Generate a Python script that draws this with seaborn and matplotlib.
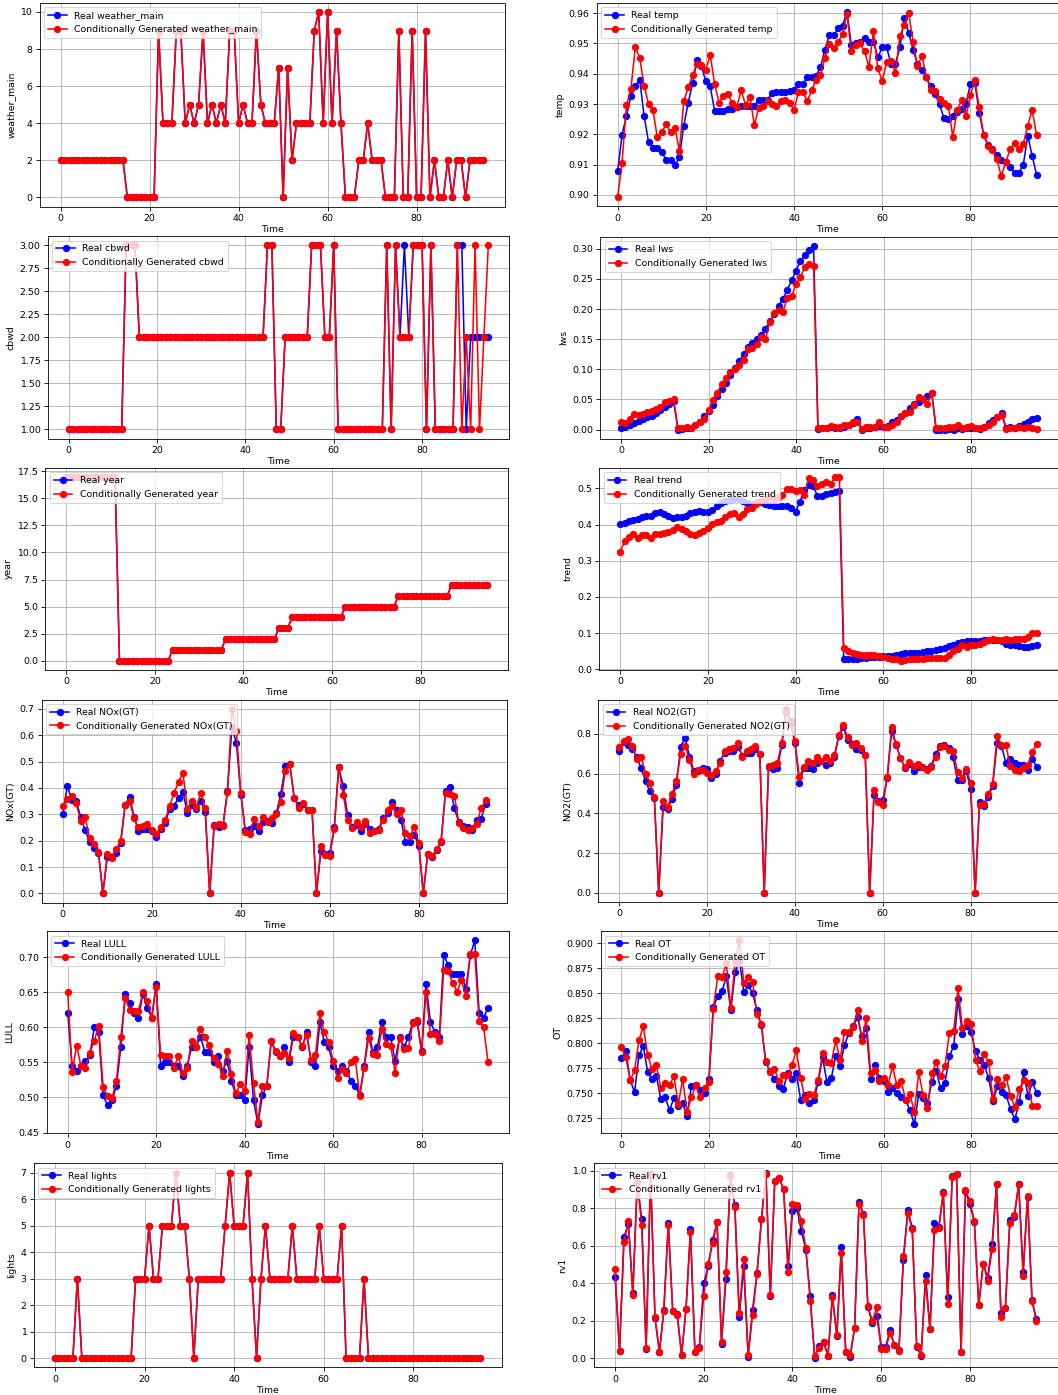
import numpy as np
import pandas as pd
import matplotlib
matplotlib.use("Agg")
import matplotlib.pyplot as plt
import seaborn as sns

time = np.arange(96)

# ---- weather_main (real and generated coincide) ----
weather_main_real = [2, 2, 2, 2, 2, 2, 2, 2, 2, 2, 2, 2, 2, 2, 2,
                     0, 0, 0, 0, 0, 0, 0,
                     9, 4, 4, 4, 9, 9, 4, 5, 4, 5, 9, 4, 5, 4, 5, 4, 9, 9,
                     4, 5, 4, 4, 9, 5, 4, 4, 4, 7, 0, 7, 2, 4, 4, 4, 4, 9,
                     10, 4, 10, 4, 9, 4, 0, 0, 0, 2, 2, 4, 2, 2, 2, 0, 0, 0,
                     9, 0, 0, 9, 0, 0, 9, 0, 2, 0, 0, 2, 0, 2, 2, 0, 2, 2, 2, 2]
weather_main_gen = [2, 2, 2, 2, 2, 2, 2, 2, 2, 2, 2, 2, 2, 2, 2,
                    0, 0, 0, 0, 0, 0, 0,
                    9, 4, 4, 4, 9, 9, 4, 5, 4, 5, 9, 4, 5, 4, 5, 4, 9, 9,
                    4, 5, 4, 4, 9, 5, 4, 4, 4, 7, 0, 7, 2, 4, 4, 4, 4, 9,
                    10, 4, 10, 4, 9, 4, 0, 0, 0, 2, 2, 4, 2, 2, 2, 0, 0, 0,
                    9, 0, 0, 9, 0, 0, 9, 0, 2, 0, 0, 2, 0, 2, 2, 0, 2, 2, 2, 2]

# ---- temp ----
temp_real = [0.9078, 0.9198, 0.9262, 0.9326, 0.9360, 0.9381, 0.9261, 0.9175, 0.9155, 0.9155,
             0.9141, 0.9116, 0.9115, 0.9099, 0.9124, 0.9229, 0.9304, 0.9369, 0.9445, 0.9425,
             0.9375, 0.9358, 0.9277, 0.9277, 0.9277, 0.9282, 0.9282, 0.9290, 0.9292, 0.9292,
             0.9292, 0.9295, 0.9313, 0.9313, 0.9313, 0.9338, 0.9340, 0.9340, 0.9340, 0.9344,
             0.9347, 0.9365, 0.9365, 0.9390, 0.9390, 0.9392, 0.9422, 0.9480, 0.9527, 0.9527,
             0.9550, 0.9559, 0.9604, 0.9495, 0.9502, 0.9504, 0.9517, 0.9505, 0.9505, 0.9454,
             0.9487, 0.9487, 0.9432, 0.9432, 0.9487, 0.9584, 0.9535, 0.9478, 0.9433, 0.9413,
             0.9390, 0.9358, 0.9333, 0.9300, 0.9253, 0.9251, 0.9261, 0.9275, 0.9285, 0.9300,
             0.9366, 0.9370, 0.9272, 0.9198, 0.9165, 0.9150, 0.9133, 0.9115, 0.9108, 0.9092,
             0.9073, 0.9073, 0.9100, 0.9195, 0.9130, 0.9067]
temp_gen = [0.8993, 0.9107, 0.9296, 0.9349, 0.9487, 0.9453, 0.9360, 0.9301, 0.9279, 0.9190,
            0.9207, 0.9233, 0.9208, 0.9222, 0.9146, 0.9309, 0.9355, 0.9395, 0.9433, 0.9430,
            0.9413, 0.9462, 0.9365, 0.9305, 0.9328, 0.9334, 0.9302, 0.9289, 0.9345, 0.9298,
            0.9323, 0.9231, 0.9287, 0.9293, 0.9309, 0.9301, 0.9292, 0.9311, 0.9312, 0.9304,
            0.9280, 0.9340, 0.9340, 0.9310, 0.9345, 0.9380, 0.9395, 0.9452, 0.9498, 0.9484,
            0.9505, 0.9531, 0.9598, 0.9475, 0.9495, 0.9500, 0.9474, 0.9422, 0.9540, 0.9418,
            0.9376, 0.9438, 0.9443, 0.9402, 0.9524, 0.9561, 0.9601, 0.9504, 0.9424, 0.9460,
            0.9390, 0.9347, 0.9343, 0.9318, 0.9305, 0.9292, 0.9192, 0.9280, 0.9313, 0.9259,
            0.9330, 0.9378, 0.9290, 0.9198, 0.9162, 0.9147, 0.9118, 0.9062, 0.9108, 0.9150,
            0.9172, 0.9150, 0.9168, 0.9229, 0.9281, 0.9197]

# ---- cbwd ----
cbwd_real = [1] * 13 + [3, 3, 3] + [2] * 29 + [3, 3, 1, 1] + [2] * 6 + [3, 3, 3, 2, 2, 3] \
    + [1] * 11 + [3, 1, 3, 2, 3, 2, 3, 3, 3, 1, 3, 1, 1, 1, 1, 1, 3, 3, 1, 2, 2, 2, 2, 2]
cbwd_gen = [1] * 13 + [3, 3, 3] + [2] * 29 + [3, 3, 1, 1] + [2] * 6 + [3, 3, 3, 2, 2, 3] \
    + [1] * 11 + [3, 1, 3, 2, 2, 2, 3, 3, 3, 1, 3, 1, 1, 1, 1, 1, 3, 1, 2, 1, 3, 1, 2, 3]

# ---- Iws ----
iws_real = [0.002, 0.004, 0.007, 0.010, 0.014, 0.017, 0.020, 0.023, 0.027, 0.033,
            0.038, 0.043, 0.047, 0.000, 0.001, 0.002, 0.002, 0.008, 0.013, 0.022,
            0.030, 0.041, 0.055, 0.067, 0.078, 0.090, 0.102, 0.114, 0.125, 0.137,
            0.144, 0.150, 0.157, 0.167, 0.180, 0.192, 0.205, 0.217, 0.232, 0.248,
            0.264, 0.280, 0.290, 0.298, 0.305, 0.001, 0.002, 0.003, 0.004, 0.003,
            0.003, 0.005, 0.007, 0.010, 0.017, 0.000, 0.002, 0.003, 0.004, 0.006,
            0.005, 0.006, 0.012, 0.016, 0.023, 0.028, 0.036, 0.042, 0.045, 0.050,
            0.056, 0.061, 0.000, 0.000, 0.000, 0.001, 0.000, 0.002, 0.001, 0.002,
            0.003, 0.002, 0.001, 0.004, 0.010, 0.015, 0.020, 0.027, 0.003, 0.004,
            0.003, 0.006, 0.009, 0.012, 0.017, 0.019]
iws_gen = [0.013, 0.010, 0.018, 0.026, 0.024, 0.026, 0.029, 0.030, 0.034, 0.038,
           0.046, 0.048, 0.051, 0.002, 0.003, 0.004, 0.003, 0.007, 0.012, 0.018,
           0.032, 0.049, 0.061, 0.075, 0.086, 0.096, 0.101, 0.107, 0.116, 0.134,
           0.136, 0.142, 0.153, 0.150, 0.178, 0.193, 0.199, 0.196, 0.218, 0.221,
           0.242, 0.253, 0.270, 0.275, 0.272, 0.002, 0.002, 0.003, 0.006, 0.005,
           0.005, 0.007, 0.008, 0.012, 0.013, 0.001, 0.004, 0.004, 0.005, 0.012,
           0.005, 0.004, 0.008, 0.013, 0.023, 0.027, 0.029, 0.041, 0.054, 0.050,
           0.043, 0.061, 0.003, 0.002, 0.003, 0.005, 0.005, 0.008, 0.002, 0.004,
           0.006, 0.002, 0.002, 0.005, 0.008, 0.013, 0.020, 0.024, 0.001, 0.002,
           0.003, 0.005, 0.003, 0.004, 0.003, 0.001]

# ---- year (real and generated coincide) ----
year_real = [17] * 12 + [0] * 12 + [1] * 12 + [2] * 12 + [3] * 3 + [4] * 12 + [5] * 12 + [6] * 12 + [7] * 9
year_gen = [17] * 12 + [0] * 12 + [1] * 12 + [2] * 12 + [3] * 3 + [4] * 12 + [5] * 12 + [6] * 12 + [7] * 9

# ---- trend ----
trend_real = [0.401, 0.405, 0.410, 0.412, 0.416, 0.421, 0.424, 0.425, 0.432, 0.434,
              0.430, 0.424, 0.418, 0.421, 0.420, 0.424, 0.431, 0.435, 0.437, 0.436,
              0.436, 0.441, 0.452, 0.460, 0.466, 0.469, 0.470, 0.470, 0.465, 0.460,
              0.458, 0.460, 0.463, 0.458, 0.455, 0.451, 0.451, 0.451, 0.452, 0.445,
              0.436, 0.463, 0.497, 0.509, 0.508, 0.479, 0.480, 0.484, 0.487, 0.490,
              0.492, 0.027, 0.028, 0.028, 0.029, 0.030, 0.030, 0.033, 0.034, 0.034,
              0.036, 0.036, 0.037, 0.039, 0.041, 0.044, 0.045, 0.045, 0.046, 0.047,
              0.049, 0.051, 0.054, 0.057, 0.060, 0.063, 0.068, 0.073, 0.075, 0.077,
              0.078, 0.077, 0.079, 0.080, 0.082, 0.082, 0.082, 0.079, 0.071, 0.066,
              0.066, 0.064, 0.062, 0.062, 0.064, 0.066]
trend_gen = [0.324, 0.354, 0.367, 0.374, 0.363, 0.370, 0.372, 0.364, 0.375, 0.374,
             0.376, 0.380, 0.385, 0.392, 0.387, 0.382, 0.374, 0.371, 0.376, 0.382,
             0.390, 0.403, 0.408, 0.410, 0.420, 0.428, 0.433, 0.420, 0.428, 0.442,
             0.445, 0.458, 0.465, 0.471, 0.475, 0.470, 0.474, 0.481, 0.499, 0.498,
             0.494, 0.496, 0.483, 0.528, 0.524, 0.506, 0.513, 0.519, 0.512, 0.532,
             0.531, 0.060, 0.049, 0.045, 0.041, 0.040, 0.040, 0.040, 0.040, 0.036,
             0.033, 0.030, 0.028, 0.028, 0.024, 0.026, 0.027, 0.027, 0.028, 0.028,
             0.030, 0.031, 0.032, 0.032, 0.032, 0.040, 0.050, 0.057, 0.066, 0.062,
             0.068, 0.068, 0.070, 0.076, 0.080, 0.083, 0.082, 0.082, 0.083, 0.082,
             0.083, 0.083, 0.083, 0.088, 0.101, 0.100]

# ---- NOx(GT) ----
nox_real = [0.300, 0.408, 0.355, 0.352, 0.290, 0.240, 0.195, 0.172, 0.155, 0.000,
            0.138, 0.137, 0.155, 0.190, 0.335, 0.367, 0.290, 0.237, 0.243, 0.243,
            0.235, 0.215, 0.245, 0.268, 0.320, 0.333, 0.362, 0.383, 0.305, 0.335,
            0.320, 0.350, 0.310, 0.000, 0.260, 0.250, 0.260, 0.390, 0.630, 0.570,
            0.375, 0.240, 0.245, 0.255, 0.238, 0.270, 0.275, 0.268, 0.305, 0.378,
            0.483, 0.490, 0.360, 0.335, 0.340, 0.315, 0.315, 0.000, 0.160, 0.150,
            0.155, 0.250, 0.478, 0.408, 0.297, 0.250, 0.260, 0.235, 0.262, 0.245,
            0.238, 0.245, 0.285, 0.305, 0.345, 0.315, 0.278, 0.195, 0.195, 0.223,
            0.180, 0.000, 0.150, 0.140, 0.165, 0.195, 0.390, 0.403, 0.322, 0.270,
            0.257, 0.250, 0.240, 0.280, 0.282, 0.340]
nox_gen = [0.332, 0.357, 0.368, 0.342, 0.275, 0.288, 0.212, 0.186, 0.158, 0.000,
           0.150, 0.136, 0.168, 0.200, 0.335, 0.350, 0.285, 0.250, 0.255, 0.262,
           0.240, 0.227, 0.252, 0.278, 0.332, 0.380, 0.423, 0.455, 0.320, 0.350,
           0.328, 0.380, 0.322, 0.000, 0.256, 0.265, 0.255, 0.385, 0.700, 0.615,
           0.380, 0.232, 0.225, 0.282, 0.255, 0.288, 0.272, 0.285, 0.300, 0.348,
           0.465, 0.490, 0.362, 0.325, 0.343, 0.315, 0.316, 0.000, 0.178, 0.145,
           0.142, 0.245, 0.480, 0.375, 0.278, 0.248, 0.272, 0.250, 0.274, 0.228,
           0.235, 0.242, 0.278, 0.315, 0.332, 0.302, 0.318, 0.230, 0.218, 0.253,
           0.192, 0.000, 0.150, 0.142, 0.168, 0.198, 0.382, 0.378, 0.370, 0.268,
           0.248, 0.240, 0.248, 0.262, 0.322, 0.353]

# ---- NO2(GT) ----
no2_real = [0.712, 0.760, 0.742, 0.722, 0.682, 0.628, 0.560, 0.510, 0.475, 0.000,
            0.430, 0.422, 0.472, 0.540, 0.735, 0.780, 0.685, 0.612, 0.615, 0.628,
            0.622, 0.578, 0.600, 0.665, 0.705, 0.715, 0.715, 0.735, 0.690, 0.705,
            0.705, 0.725, 0.700, 0.000, 0.635, 0.622, 0.628, 0.742, 0.910, 0.855,
            0.752, 0.552, 0.628, 0.628, 0.625, 0.655, 0.662, 0.645, 0.652, 0.685,
            0.790, 0.832, 0.770, 0.750, 0.725, 0.718, 0.695, 0.000, 0.490, 0.462,
            0.468, 0.575, 0.812, 0.745, 0.680, 0.630, 0.648, 0.612, 0.632, 0.635,
            0.622, 0.640, 0.698, 0.738, 0.742, 0.728, 0.682, 0.565, 0.565, 0.612,
            0.522, 0.000, 0.455, 0.438, 0.482, 0.538, 0.752, 0.738, 0.655, 0.675,
            0.655, 0.642, 0.645, 0.618, 0.675, 0.632]
no2_gen = [0.733, 0.762, 0.772, 0.740, 0.672, 0.685, 0.600, 0.552, 0.482, 0.000,
           0.462, 0.432, 0.495, 0.562, 0.700, 0.738, 0.668, 0.600, 0.618, 0.620,
           0.605, 0.592, 0.615, 0.652, 0.715, 0.722, 0.728, 0.755, 0.685, 0.715,
           0.722, 0.740, 0.698, 0.000, 0.640, 0.645, 0.652, 0.755, 0.925, 0.862,
           0.762, 0.582, 0.632, 0.662, 0.652, 0.685, 0.662, 0.685, 0.665, 0.695,
           0.795, 0.842, 0.782, 0.742, 0.755, 0.728, 0.692, 0.000, 0.518, 0.455,
           0.442, 0.582, 0.835, 0.748, 0.678, 0.632, 0.660, 0.640, 0.650, 0.635,
           0.618, 0.632, 0.685, 0.732, 0.738, 0.718, 0.715, 0.608, 0.578, 0.625,
           0.552, 0.000, 0.440, 0.448, 0.495, 0.548, 0.788, 0.742, 0.742, 0.638,
           0.618, 0.612, 0.628, 0.645, 0.708, 0.750]

# ---- LULL ----
lull_real = [0.621, 0.545, 0.538, 0.545, 0.552, 0.560, 0.600, 0.593, 0.503, 0.489,
             0.496, 0.516, 0.572, 0.648, 0.635, 0.620, 0.614, 0.648, 0.627, 0.614,
             0.662, 0.545, 0.551, 0.551, 0.545, 0.545, 0.530, 0.545, 0.572, 0.572,
             0.587, 0.565, 0.565, 0.551, 0.559, 0.538, 0.552, 0.524, 0.503, 0.503,
             0.496, 0.572, 0.496, 0.462, 0.503, 0.517, 0.580, 0.565, 0.559, 0.572,
             0.551, 0.587, 0.587, 0.572, 0.593, 0.551, 0.545, 0.607, 0.579, 0.572,
             0.545, 0.538, 0.545, 0.538, 0.524, 0.517, 0.503, 0.545, 0.593, 0.565,
             0.572, 0.607, 0.586, 0.586, 0.552, 0.586, 0.572, 0.586, 0.607, 0.607,
             0.566, 0.662, 0.607, 0.593, 0.586, 0.703, 0.689, 0.676, 0.676, 0.676,
             0.655, 0.703, 0.724, 0.621, 0.614, 0.628]
lull_gen = [0.651, 0.536, 0.574, 0.545, 0.542, 0.563, 0.581, 0.602, 0.515, 0.502,
            0.499, 0.523, 0.586, 0.642, 0.625, 0.624, 0.623, 0.651, 0.638, 0.614,
            0.658, 0.560, 0.559, 0.559, 0.542, 0.559, 0.535, 0.542, 0.581, 0.572,
            0.598, 0.586, 0.575, 0.557, 0.548, 0.531, 0.566, 0.534, 0.506, 0.519,
            0.509, 0.589, 0.520, 0.465, 0.516, 0.516, 0.581, 0.567, 0.559, 0.563,
            0.556, 0.592, 0.586, 0.573, 0.589, 0.554, 0.560, 0.620, 0.593, 0.579,
            0.552, 0.528, 0.540, 0.535, 0.551, 0.555, 0.502, 0.542, 0.585, 0.562,
            0.561, 0.597, 0.577, 0.574, 0.535, 0.585, 0.569, 0.570, 0.606, 0.610,
            0.565, 0.651, 0.591, 0.590, 0.580, 0.682, 0.680, 0.664, 0.651, 0.667,
            0.645, 0.704, 0.705, 0.609, 0.601, 0.551]

# ---- OT ----
ot_real = [0.785, 0.792, 0.763, 0.751, 0.788, 0.797, 0.771, 0.764, 0.767, 0.744,
           0.746, 0.733, 0.745, 0.737, 0.740, 0.727, 0.757, 0.758, 0.753, 0.750,
           0.764, 0.836, 0.847, 0.852, 0.867, 0.833, 0.871, 0.883, 0.851, 0.858,
           0.850, 0.833, 0.818, 0.781, 0.772, 0.764, 0.757, 0.754, 0.770, 0.764,
           0.770, 0.743, 0.748, 0.740, 0.743, 0.761, 0.786, 0.761, 0.765, 0.787,
           0.777, 0.798, 0.810, 0.817, 0.826, 0.807, 0.815, 0.764, 0.778, 0.765,
           0.762, 0.751, 0.755, 0.750, 0.746, 0.743, 0.733, 0.719, 0.749, 0.745,
           0.740, 0.761, 0.772, 0.755, 0.760, 0.787, 0.797, 0.844, 0.809, 0.817,
           0.811, 0.792, 0.783, 0.778, 0.765, 0.742, 0.757, 0.751, 0.748, 0.734,
           0.724, 0.741, 0.771, 0.747, 0.761, 0.750]
ot_gen = [0.796, 0.786, 0.763, 0.773, 0.803, 0.817, 0.788, 0.774, 0.778, 0.755,
          0.760, 0.758, 0.767, 0.739, 0.764, 0.731, 0.746, 0.758, 0.746, 0.755,
          0.761, 0.834, 0.867, 0.866, 0.880, 0.835, 0.881, 0.903, 0.860, 0.866,
          0.861, 0.829, 0.819, 0.782, 0.771, 0.774, 0.762, 0.768, 0.768, 0.778,
          0.793, 0.765, 0.744, 0.749, 0.748, 0.763, 0.790, 0.781, 0.780, 0.803,
          0.783, 0.811, 0.811, 0.816, 0.833, 0.802, 0.825, 0.770, 0.773, 0.762,
          0.765, 0.758, 0.777, 0.758, 0.762, 0.743, 0.749, 0.731, 0.771, 0.748,
          0.735, 0.770, 0.781, 0.767, 0.777, 0.810, 0.812, 0.855, 0.815, 0.822,
          0.819, 0.783, 0.772, 0.789, 0.781, 0.744, 0.764, 0.758, 0.766, 0.747,
          0.736, 0.754, 0.763, 0.760, 0.737, 0.737]

# ---- lights (real and generated coincide) ----
lights_real = [0, 0, 0, 0, 0, 3] + [0] * 12 + [3, 3, 3, 5, 3, 3, 5, 5, 5, 7, 5, 5, 3, 0] \
    + [3] * 6 + [5, 7, 5, 5, 5, 7, 3, 0, 3, 5] + [3] * 5 + [5] + [3] * 5 + [5, 3, 3, 3, 3, 5] \
    + [0, 0, 0, 0, 3] + [0] * 26
lights_gen = [0, 0, 0, 0, 0, 3] + [0] * 12 + [3, 3, 3, 5, 3, 3, 5, 5, 5, 7, 5, 5, 3, 0] \
    + [3] * 6 + [5, 7, 5, 5, 5, 7, 3, 0, 3, 5] + [3] * 5 + [5] + [3] * 5 + [5, 3, 3, 3, 3, 5] \
    + [0, 0, 0, 0, 3] + [0] * 26

# ---- rv1 ----
rv1_real = [0.435, 0.040, 0.645, 0.718, 0.350, 0.942, 0.745, 0.050, 0.985, 0.215,
            0.035, 0.260, 0.722, 0.250, 0.235, 0.020, 0.265, 0.692, 0.035, 0.060,
            0.400, 0.490, 0.632, 0.725, 0.078, 0.422, 0.975, 0.815, 0.222, 0.490,
            0.010, 0.260, 0.455, 0.740, 0.990, 0.330, 0.945, 0.962, 0.902, 0.492,
            0.785, 0.800, 0.678, 0.580, 0.332, 0.002, 0.068, 0.085, 0.015, 0.338,
            0.118, 0.595, 0.035, 0.010, 0.160, 0.835, 0.768, 0.272, 0.188, 0.225,
            0.062, 0.062, 0.150, 0.070, 0.045, 0.522, 0.790, 0.695, 0.062, 0.015,
            0.442, 0.155, 0.720, 0.702, 0.885, 0.325, 0.970, 0.985, 0.035, 0.890,
            0.822, 0.725, 0.285, 0.505, 0.430, 0.610, 0.928, 0.240, 0.270, 0.735,
            0.752, 0.930, 0.462, 0.860, 0.312, 0.208]
rv1_gen = [0.475, 0.038, 0.618, 0.730, 0.338, 0.942, 0.710, 0.055, 0.975, 0.222,
           0.035, 0.255, 0.712, 0.250, 0.233, 0.020, 0.265, 0.672, 0.033, 0.058,
           0.335, 0.505, 0.615, 0.725, 0.090, 0.460, 0.970, 0.805, 0.240, 0.530,
           0.018, 0.232, 0.450, 0.740, 0.985, 0.340, 0.945, 0.960, 0.900, 0.458,
           0.825, 0.815, 0.732, 0.588, 0.305, 0.015, 0.058, 0.090, 0.015, 0.325,
           0.125, 0.560, 0.035, 0.018, 0.160, 0.825, 0.762, 0.278, 0.200, 0.272,
           0.052, 0.052, 0.135, 0.072, 0.038, 0.545, 0.775, 0.688, 0.068, 0.020,
           0.412, 0.155, 0.682, 0.695, 0.880, 0.292, 0.965, 0.985, 0.035, 0.895,
           0.840, 0.730, 0.285, 0.505, 0.415, 0.582, 0.928, 0.220, 0.270, 0.720,
           0.762, 0.928, 0.440, 0.865, 0.305, 0.200]

FIG_W, FIG_H = 1058, 1395
DPI = 75
plt.rcParams["font.size"] = 9

# panel boxes in pixels: (left, top, right, bottom)
panels = [
    ("weather_main", weather_main_real, weather_main_gen, (39.5, 2.7, 504.5, 206.7)),
    ("temp", temp_real, temp_gen, (596.7, 2.7, 1057.5, 206.3)),
    ("cbwd", cbwd_real, cbwd_gen, (47.7, 236.0, 509.3, 438.7)),
    ("Iws", iws_real, iws_gen, (600.3, 236.7, 1057.5, 438.7)),
    ("year", year_real, year_gen, (45.3, 467.7, 508.0, 669.7)),
    ("trend", trend_real, trend_gen, (599.3, 467.7, 1057.5, 669.7)),
    ("NOx(GT)", nox_real, nox_gen, (41.7, 699.5, 506.7, 902.7)),
    ("NO2(GT)", no2_real, no2_gen, (598.3, 699.7, 1057.5, 902.0)),
    ("LULL", lull_real, lull_gen, (46.7, 931.3, 509.0, 1133.3)),
    ("OT", ot_real, ot_gen, (600.7, 931.3, 1057.5, 1133.3)),
    ("lights", lights_real, lights_gen, (33.7, 1163.3, 501.7, 1367.3)),
    ("rv1", rv1_real, rv1_gen, (594.0, 1163.3, 1057.5, 1367.3)),
]

fig = plt.figure(figsize=(FIG_W / DPI, FIG_H / DPI), dpi=DPI)

for name, real, gen, (l, t, r, b) in panels:
    ax = fig.add_axes([l / FIG_W, 1 - b / FIG_H, (r - l) / FIG_W, (b - t) / FIG_H])
    df = pd.DataFrame({"Time": time, "Real": real, "Generated": gen})
    sns.lineplot(data=df, x="Time", y="Real", ax=ax, color="blue", marker="o",
                 markersize=6, markeredgecolor="blue", markeredgewidth=1.0,
                 linewidth=1.5, label=f"Real {name}")
    sns.lineplot(data=df, x="Time", y="Generated", ax=ax, color="red", marker="o",
                 markersize=6, markeredgecolor="red", markeredgewidth=1.0,
                 linewidth=1.5, label=f"Conditionally Generated {name}")
    ax.set_xlabel("Time", labelpad=2)
    ax.set_ylabel(name)
    ax.set_xticks([0, 20, 40, 60, 80])
    ax.grid(True)
    ax.legend(loc="upper left")

fig.savefig("out.png", dpi=DPI)
